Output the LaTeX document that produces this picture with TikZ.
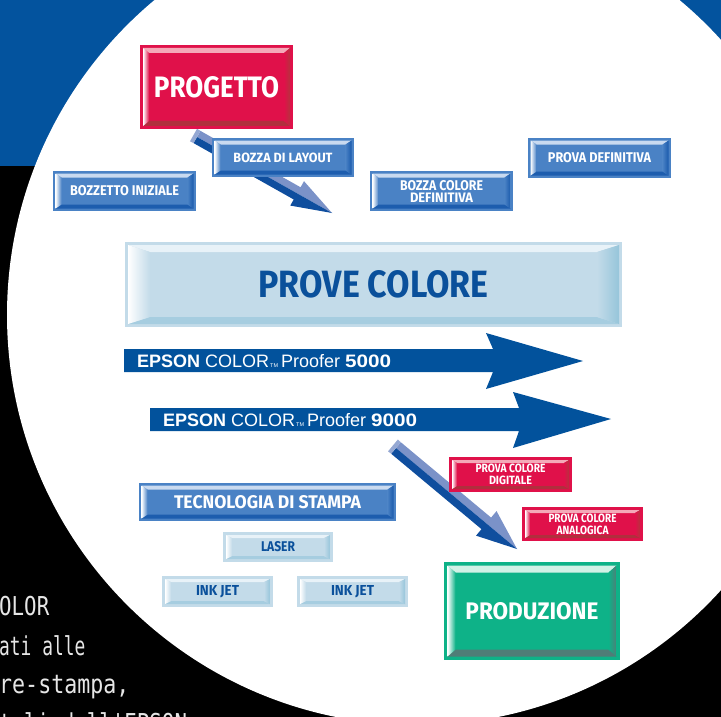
\documentclass[tikz,border=0pt]{standalone}
\usepackage{fontspec}
\usepackage{graphicx}
\usetikzlibrary{calc}
\newfontfamily\labfont{Fira Sans}
\newfontfamily\epsonfont{Liberation Sans}
\newfontfamily\monofont[FakeStretch=0.8]{DejaVu Sans Mono}
\definecolor{bgblue}{HTML}{03539E}
\definecolor{epblue}{HTML}{02529C}
\definecolor{arrlight}{HTML}{7B92C8}
\definecolor{arrdark}{HTML}{0F4E9E}
\definecolor{textgray}{HTML}{E6E6E6}
\definecolor{darktext}{HTML}{0A509B}
% red
\definecolor{redbase}{HTML}{E0114A}
\definecolor{redtop}{HTML}{F4A9B8}
\definecolor{redbot}{HTML}{B02F3D}
\definecolor{redlite}{HTML}{FFFFFF}
\definecolor{reddark}{HTML}{B8303E}
\colorlet{redtext}{white}
\def\redm{3}
% blue
\definecolor{bluebase}{HTML}{4A82C5}
\definecolor{bluetop}{HTML}{C9DAF0}
\definecolor{bluebot}{HTML}{1D5DAE}
\definecolor{bluelite}{HTML}{FFFFFF}
\definecolor{bluedark}{HTML}{1A5AAC}
\colorlet{bluetext}{white}
\def\bluem{2.5}
% light blue
\definecolor{litebase}{HTML}{C3DBE9}
\definecolor{litetop}{HTML}{E8F2F8}
\definecolor{litebot}{HTML}{A6CDE0}
\definecolor{litelite}{HTML}{FFFFFF}
\definecolor{litedark}{HTML}{96C5DA}
\colorlet{litetext}{darktext}
\def\litem{3}
% green
\definecolor{greenbase}{HTML}{0EB288}
\definecolor{greentop}{HTML}{D2F1E6}
\definecolor{greenbot}{HTML}{4F7D77}
\definecolor{greenlite}{HTML}{FFFFFF}
\definecolor{greendark}{HTML}{4F7D77}
\colorlet{greentext}{white}
\def\greenm{3.5}

\newcommand{\fit}[3]{\resizebox{#1pt}{#2pt}{\labfont\bfseries #3}}

\newcommand{\bevelbox}[9]{%
 \pgfmathsetmacro\bbM{\csname #1m\endcsname}%
 \pgfmathsetmacro\bbAx{#3+\bbM}\pgfmathsetmacro\bbAy{#4+\bbM}%
 \pgfmathsetmacro\bbCx{#5-\bbM}\pgfmathsetmacro\bbCy{#6-\bbM}%
 \pgfmathsetmacro\bbIx{\bbAx+#7}\pgfmathsetmacro\bbIy{\bbAy+#8}%
 \pgfmathsetmacro\bbJx{\bbCx-#7}\pgfmathsetmacro\bbJy{\bbCy-#8}%
 \fill[#1base] (#3,#4) rectangle (#5,#6);
 \fill[#1top] (\bbAx,\bbAy) -- (\bbCx,\bbAy) -- (\bbJx,\bbIy) -- (\bbIx,\bbIy) -- cycle;
 \fill[#1bot] (\bbAx,\bbCy) -- (\bbCx,\bbCy) -- (\bbJx,\bbJy) -- (\bbIx,\bbJy) -- cycle;
 \shade[left color=#1lite, right color=#1base] (\bbAx,\bbAy) -- (\bbIx,\bbIy) -- (\bbIx,\bbJy) -- (\bbAx,\bbCy) -- cycle;
 \shade[left color=#1base, right color=#1dark] (\bbCx,\bbAy) -- (\bbJx,\bbIy) -- (\bbJx,\bbJy) -- (\bbCx,\bbCy) -- cycle;
 \node[inner sep=0pt, text=#1text, align=center] (#2) at ({(#3+#5)/2},{(#4+#6)/2}) {#9};
}

% 3D diagonal arrow: #1 start, #2 tip, #3 half shaft, #4 half head, #5 head length
\newcommand{\diagarrow}[5]{%
 \coordinate (dh) at ($(#2)!#5pt!(#1)$);
 \fill[arrlight] (#1) -- ($(#1)!#3pt!90:(#2)$) -- ($(dh)!#3pt!90:(#2)$) -- ($(dh)!#4pt!90:(#2)$) -- (#2) -- (dh) -- cycle;
 \fill[arrdark] (#1) -- ($(#1)!#3pt!-90:(#2)$) -- ($(dh)!#3pt!-90:(#2)$) -- ($(dh)!#4pt!-90:(#2)$) -- (#2) -- (dh) -- cycle;
 \fill[arrlight!80!white] ($(#1)!#3pt!90:(#2)$) -- ($(#1)!#3pt!-90:(#2)$) -- ($($(#1)!#3pt!-90:(#2)$)!4pt!180:(#2)$) -- ($($(#1)!#3pt!90:(#2)$)!4pt!180:(#2)$) -- cycle;
}

\newcommand{\epsonline}[1]{\textbf{EPSON} COLOR\hspace{1pt}{\fontsize{5.5}{5.5}\selectfont TM}\hspace{3pt}Proofer \scalebox{1.15}[1]{\textbf{#1}}}

\begin{document}
\begin{tikzpicture}[x=1pt,y=-1pt]
\useasboundingbox (0,0) rectangle (721,717);
\clip (0,0) rectangle (721,717);
% background
\fill[black] (0,0) rectangle (721,717);
\fill[bgblue] (0,0) rectangle (721,166);
\fill[white] (417,315) circle[radius=410];

% side text
\begin{scope}[every node/.style={anchor=base west, inner sep=0pt, text=textgray, font=\monofont\fontsize{26}{26}\selectfont}]
\node (m1) at (-1,615) {OLOR};
\node (m2) at (-1,655) {\scalebox{0.86}[1]{ati alle}};
\node (m3) at (-1,693) {\scalebox{1.04}[1]{re-stampa,}};
\node (m4) at (-1,732) {tali dell'EPSON};
\end{scope}

% EPSON arrows
\fill[epblue] (124,349) -- (493,349) -- (486,333) -- (583,361) -- (486,389) -- (493,372) -- (124,372) -- cycle;
\fill[epblue] (150,408) -- (519,408) -- (513,392) -- (611,419) -- (513,448) -- (519,431) -- (150,431) -- cycle;
\node[anchor=base west, inner sep=0pt, text=white, font=\epsonfont\fontsize{18}{18}\selectfont] (ep5) at (137,367) {\epsonline{5000}};
\node[anchor=base west, inner sep=0pt, text=white, font=\epsonfont\fontsize{18}{18}\selectfont] (ep9) at (163,426) {\epsonline{9000}};

% diagonal arrows
\coordinate (s1) at (197,137);
\coordinate (t1) at (332,213);
\diagarrow{s1}{t1}{7}{14}{40}
\coordinate (s2) at (396,448);
\coordinate (t2) at (517,549);
\diagarrow{s2}{t2}{7.5}{16}{40}

% boxes
\bevelbox{red}{progetto}{140}{45}{293}{129}{6}{5}{\fit{125}{21}{PROGETTO}}
\bevelbox{blue}{layout}{212}{138}{354}{177}{6}{4}{\fit{99}{9.5}{BOZZA DI LAYOUT}}
\bevelbox{blue}{bozzetto}{53}{171}{196}{211}{6}{4}{\fit{109}{10}{BOZZETTO INIZIALE}}
\bevelbox{blue}{bozzacol}{370}{171}{513}{211}{6}{4}{\fontsize{10}{14}\selectfont\fit{83}{10}{BOZZA COLORE}\\\fit{63}{9.5}{DEFINITIVA}}
\bevelbox{blue}{provadef}{528}{138}{671}{178}{6}{4}{\fit{103}{10}{PROVA DEFINITIVA}}
\bevelbox{lite}{prove}{125}{242}{622}{327}{22}{7}{\fit{230}{27}{PROVE COLORE}}
\bevelbox{red}{digitale}{449}{457}{572}{492}{5}{3}{\fontsize{8}{10.5}\selectfont\fit{70}{8.5}{PROVA COLORE}\\\fit{43}{8.5}{DIGITALE}}
\bevelbox{red}{analogica}{522}{507}{643}{541}{5}{3}{\fontsize{8}{10.5}\selectfont\fit{68}{8.5}{PROVA COLORE}\\\fit{52}{8.5}{ANALOGICA}}
\bevelbox{blue}{tecno}{139}{483}{396}{521}{6}{4}{\fit{187}{13}{TECNOLOGIA DI STAMPA}}
\bevelbox{lite}{laser}{223}{532}{333}{562}{6}{3}{\fit{34}{10}{LASER}}
\bevelbox{lite}{ink1}{162}{576}{273}{607}{6}{3}{\fit{43}{10}{INK JET}}
\bevelbox{lite}{ink2}{297}{576}{408}{607}{6}{3}{\fit{43}{10}{INK JET}}
\bevelbox{green}{produzione}{444}{562}{620}{660}{8}{7}{\fit{133}{17}{PRODUZIONE}}
\end{tikzpicture}
\end{document}
